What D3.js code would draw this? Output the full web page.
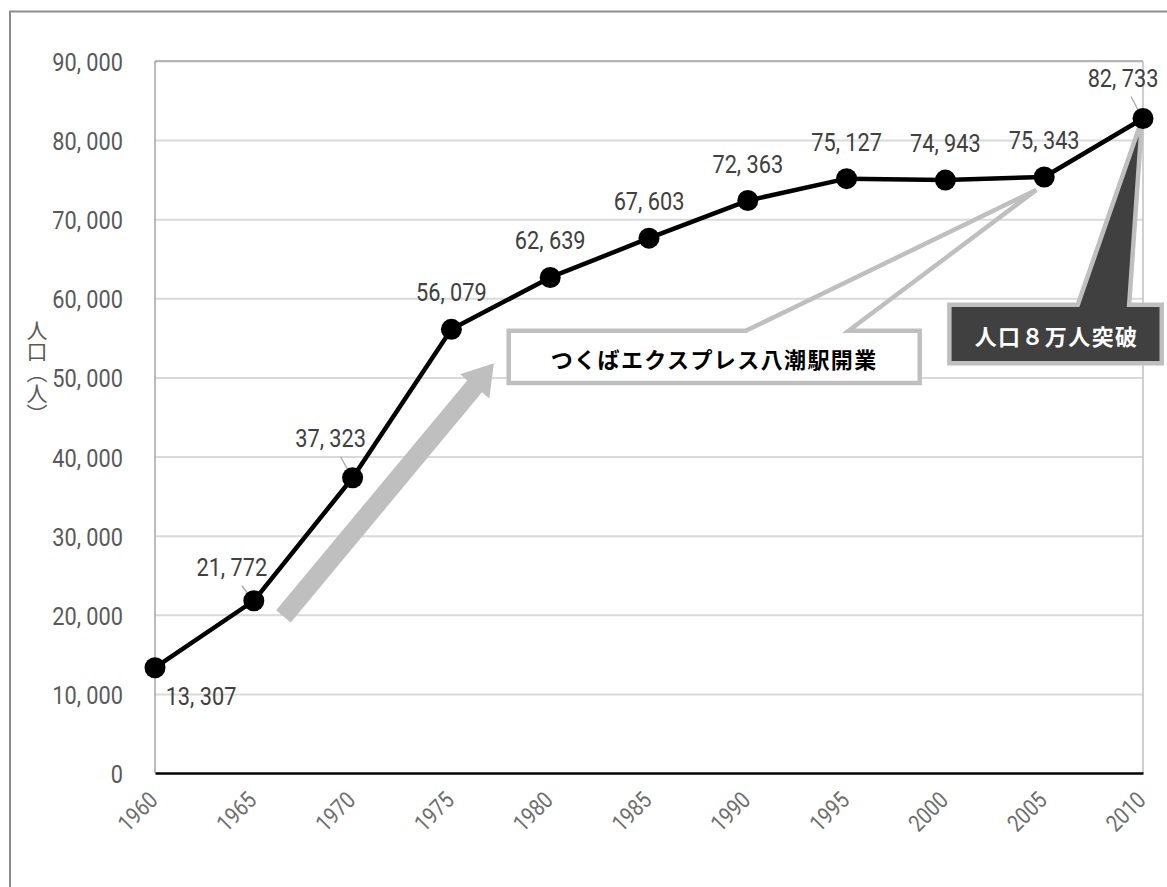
<!DOCTYPE html>
<html>
<head>
<meta charset="utf-8">
<script src="https://cdn.jsdelivr.net/npm/d3@7"></script>
<style>
  html, body { margin: 0; padding: 0; background: #fff; }
  svg { display: block; }
</style>
</head>
<body>
<svg id="chart" width="1167" height="887"></svg>
<script>
// ---- data ----
const years = [1960, 1965, 1970, 1975, 1980, 1985, 1990, 1995, 2000, 2005, 2010];
const population = [13307, 21772, 37323, 56079, 62639, 67603, 72363, 75127, 74943, 75343, 82733];
const yTicks = [0, 10000, 20000, 30000, 40000, 50000, 60000, 70000, 80000, 90000];
const yAxisTitle = "人口（人）";
const callout1Text = "つくばエクスプレス八潮駅開業";
const callout2Text = "人口８万人突破";

// ---- layout ----
const W = 1167, H = 887;
const plot = { left: 155, right: 1143, top: 61, bottom: 773 };
const numFont = "Roboto, 'Liberation Sans', sans-serif";
const cjkFont = "'Noto Sans CJK JP', 'Noto Sans', sans-serif";

const svg = d3.select("#chart");

const x = d3.scaleLinear().domain([1960, 2010]).range([plot.left, plot.right]);
const y = d3.scaleLinear().domain([0, 90000]).range([plot.bottom, plot.top]);
const fmt = v => d3.format(",")(v).replace(/,/g, ", ");

// narrow the glyphs horizontally (condensed look)
function condense(sel, factor) {
  sel.each(function () {
    const len = this.getComputedTextLength();
    d3.select(this).attr("textLength", len * factor).attr("lengthAdjust", "spacingAndGlyphs");
  });
}

// outer frame (extends past the right/bottom of the view)
svg.append("rect")
  .attr("x", 10).attr("y", 11.5).attr("width", W + 20).attr("height", H + 20)
  .attr("fill", "none").attr("stroke", "#8c8c8c").attr("stroke-width", 2);

// gridlines
const grid = svg.append("g")
  .attr("transform", `translate(${plot.left},0)`)
  .call(d3.axisLeft(y).tickValues(yTicks.filter(d => d > 0)).tickSize(-(plot.right - plot.left)).tickFormat(""));
grid.select(".domain").remove();
grid.selectAll(".tick line").attr("stroke", "#d9d9d9").attr("stroke-width", 2);

// plot border
svg.append("line").attr("x1", plot.left).attr("x2", plot.right).attr("y1", plot.top).attr("y2", plot.top)
  .attr("stroke", "#a6a6a6").attr("stroke-width", 1.5);
svg.append("line").attr("x1", plot.right).attr("x2", plot.right).attr("y1", plot.top).attr("y2", plot.bottom)
  .attr("stroke", "#bfbfbf").attr("stroke-width", 1.5);
svg.append("line").attr("x1", plot.left).attr("x2", plot.left).attr("y1", plot.top).attr("y2", plot.bottom)
  .attr("stroke", "#a6a6a6").attr("stroke-width", 1.5);

// y axis labels
const yAxis = svg.append("g")
  .attr("transform", `translate(${plot.left},0)`)
  .call(d3.axisLeft(y).tickValues(yTicks).tickSize(0).tickPadding(32).tickFormat(fmt));
yAxis.select(".domain").remove();
yAxis.selectAll("text")
  .attr("font-family", numFont).attr("font-size", 26.5).attr("fill", "#595959")
  .attr("dy", null).attr("dominant-baseline", "central")
  .call(condense, 0.82);

// x axis (black baseline) + rotated labels
const xAxis = svg.append("g")
  .attr("transform", `translate(0,${plot.bottom})`)
  .call(d3.axisBottom(x).tickValues(years).tickSize(0).tickFormat(d => String(d)));
xAxis.select(".domain").attr("stroke", "#000").attr("stroke-width", 2.5);
xAxis.selectAll(".tick text")
  .attr("font-family", numFont).attr("font-size", 23.5).attr("fill", "#6e6e6e")
  .attr("text-anchor", "end").attr("dominant-baseline", "central")
  .attr("x", -2).attr("y", 23).attr("dy", null)
  .attr("transform", "rotate(-45, -2, 23)")
  .call(condense, 0.84);

// y axis title (vertical)
svg.append("text")
  .attr("x", 37).attr("y", 372)
  .attr("font-family", cjkFont).attr("font-size", 21).attr("fill", "#595959")
  .attr("text-anchor", "middle")
  .style("writing-mode", "vertical-rl")
  .text(yAxisTitle);

// ---- annotations (positioned in data space) ----
// big gray arrow
(function () {
  const p0 = [x(1966.5), y(19800)];
  const p1 = [x(1977.15), y(51800)];
  const dx = p1[0] - p0[0], dy = p1[1] - p0[1];
  const L = Math.hypot(dx, dy);
  const ux = dx / L, uy = dy / L, nx = -uy, ny = ux;
  const sw = 9.5, hw = 19, hl = 30;
  const b = [p1[0] - ux * hl, p1[1] - uy * hl];
  const pts = [
    [p0[0] + nx * sw, p0[1] + ny * sw],
    [b[0] + nx * sw, b[1] + ny * sw],
    [b[0] + nx * hw, b[1] + ny * hw],
    p1,
    [b[0] - nx * hw, b[1] - ny * hw],
    [b[0] - nx * sw, b[1] - ny * sw],
    [p0[0] - nx * sw, p0[1] - ny * sw]
  ];
  svg.append("polygon").attr("points", pts.map(p => p.join(",")).join(" "))
    .attr("fill", "#bfbfbf");
})();

// callout 1 (white box, outlined wedge)
(function () {
  const x0 = x(1977.9), x1 = x(1998.7), y0 = y(55900), y1 = y(49300);
  const w1 = x(1989.9), w2 = x(1995.1), tip = [x(2004.6), y(73700)];
  svg.append("rect").attr("x", x0).attr("y", y0).attr("width", x1 - x0).attr("height", y1 - y0)
    .attr("fill", "#fff");
  const path = d3.path();
  path.moveTo(w1, y0); path.lineTo(x0, y0); path.lineTo(x0, y1); path.lineTo(x1, y1);
  path.lineTo(x1, y0); path.lineTo(w2, y0); path.lineTo(tip[0], tip[1]); path.closePath();
  svg.append("path").attr("d", path.toString())
    .attr("fill", "none").attr("stroke", "#bfbfbf").attr("stroke-width", 4.5).attr("stroke-linejoin", "miter");
  svg.append("text")
    .attr("x", (x0 + x1) / 2).attr("y", (y0 + y1) / 2 + 1)
    .attr("text-anchor", "middle").attr("dominant-baseline", "central")
    .attr("font-family", cjkFont).attr("font-weight", 700).attr("font-size", 22)
    .attr("letter-spacing", 1.4).attr("fill", "#000")
    .text(callout1Text);
})();

// callout 2 (dark box with wedge)
(function () {
  const x0 = x(2000.2), x1 = x(2010.95), y0 = y(59200), y1 = y(51800);
  const w1 = x(2006.7), w2 = x(2009.3), tip = [x(2009.95), y(82600)];
  const path = d3.path();
  path.moveTo(x0, y0); path.lineTo(w1, y0); path.lineTo(tip[0], tip[1]); path.lineTo(w2, y0);
  path.lineTo(x1, y0); path.lineTo(x1, y1); path.lineTo(x0, y1); path.closePath();
  svg.append("path").attr("d", path.toString())
    .attr("fill", "#404040").attr("stroke", "#bfbfbf").attr("stroke-width", 4.5).attr("stroke-linejoin", "miter");
  svg.append("text")
    .attr("x", (x0 + x1) / 2 + 1).attr("y", (y0 + y1) / 2 + 1)
    .attr("text-anchor", "middle").attr("dominant-baseline", "central")
    .attr("font-family", cjkFont).attr("font-weight", 700).attr("font-size", 22)
    .attr("letter-spacing", 1.4).attr("fill", "#fff")
    .text(callout2Text);
})();

// ---- series ----
const data = years.map((yr, i) => ({ year: yr, value: population[i] }));

svg.append("path").datum(data)
  .attr("d", d3.line().x(d => x(d.year)).y(d => y(d.value)))
  .attr("fill", "none").attr("stroke", "#000").attr("stroke-width", 4.5).attr("stroke-linejoin", "round");

// data label placement (offset from point, optional leader)
const labelPlace = {
  1960: { dx: 46, dy: 28 },
  1965: { dx: -22, dy: -34, leader: true },
  1970: { dx: -22, dy: -40, leader: true },
  2010: { dx: -20, dy: -41, leader: true }
};
const defPlace = { dx: 0, dy: -37.5 };

data.forEach(d => {
  const p = labelPlace[d.year];
  if (p && p.leader) {
    const px = x(d.year), py = y(d.value);
    svg.append("line")
      .attr("x1", px + Math.max(p.dx, -13) + 1).attr("y1", py + p.dy + 19)
      .attr("x2", px - 1).attr("y2", py - 1)
      .attr("stroke", "#a6a6a6").attr("stroke-width", 1.3);
  }
});

svg.selectAll("circle.pt").data(data).join("circle")
  .attr("class", "pt")
  .attr("cx", d => x(d.year)).attr("cy", d => y(d.value)).attr("r", 10.5)
  .attr("fill", "#000");

svg.selectAll("text.lbl").data(data).join("text")
  .attr("class", "lbl")
  .attr("x", d => x(d.year) + (labelPlace[d.year] || defPlace).dx)
  .attr("y", d => y(d.value) + (labelPlace[d.year] || defPlace).dy)
  .attr("text-anchor", "middle").attr("dominant-baseline", "central")
  .attr("font-family", numFont).attr("font-size", 26.5).attr("fill", "#404040")
  .text(d => fmt(d.value))
  .call(condense, 0.82);
</script>
</body>
</html>
